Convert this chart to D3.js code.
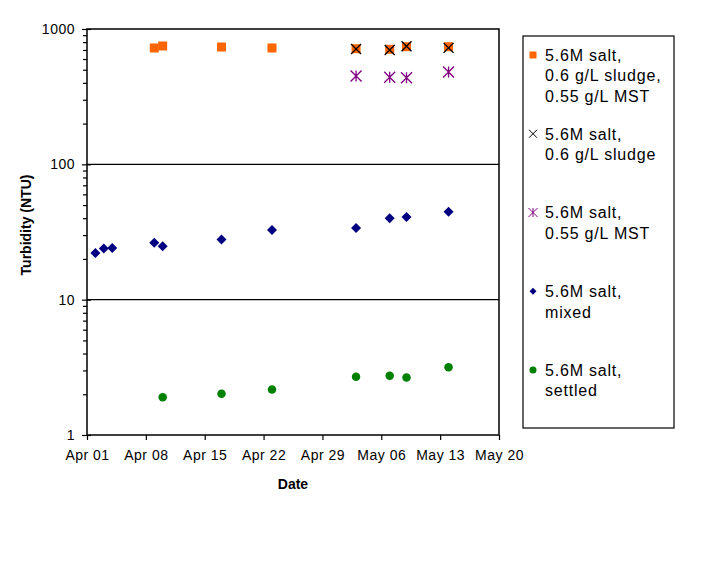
<!DOCTYPE html>
<html>
<head>
<meta charset="utf-8">
<script src="https://cdn.jsdelivr.net/npm/d3@7"></script>
<style>
  body { margin: 0; background: #fff; }
  text { font-family: "Liberation Sans", Arial, sans-serif; }
</style>
</head>
<body>
<svg id="chart" width="712" height="587"></svg>
<script>
// data
var seriesNames = [
  ["5.6M salt,", "0.6 g/L sludge,", "0.55 g/L MST"],
  ["5.6M salt,", "0.6 g/L sludge"],
  ["5.6M salt,", "0.55 g/L MST"],
  ["5.6M salt,", "mixed"],
  ["5.6M salt,", "settled"]
];
var bothDates = ["2005-04-09","2005-04-10","2005-04-17","2005-04-23","2005-05-03","2005-05-07","2005-05-09","2005-05-14"];
var bothVals  = [724, 749, 736, 724, 715, 708, 740, 740];
var sludgeDates = ["2005-05-03","2005-05-07","2005-05-09","2005-05-14"];
var sludgeVals  = [712, 700, 745, 725];
var mstDates = ["2005-05-03","2005-05-07","2005-05-09","2005-05-14"];
var mstVals  = [450, 440, 436, 481];
var mixedDates = ["2005-04-02","2005-04-03","2005-04-04","2005-04-09","2005-04-10","2005-04-17","2005-04-23","2005-05-03","2005-05-07","2005-05-09","2005-05-14"];
var mixedVals  = [22.1, 23.9, 24.1, 26.3, 24.8, 27.8, 32.7, 33.9, 39.9, 40.9, 44.7];
var settledDates = ["2005-04-10","2005-04-17","2005-04-23","2005-05-03","2005-05-07","2005-05-09","2005-05-14"];
var settledVals  = [1.9, 2.02, 2.17, 2.69, 2.74, 2.66, 3.17];
var yTicks = [1, 10, 100, 1000];
var xStart = "2005-04-01", xEnd = "2005-05-20";

var parse = d3.utcParse("%Y-%m-%d");
var pLeft = 87, pRight = 499, pTop = 29, pBottom = 435;

var svg = d3.select("#chart");
var x = d3.scaleUtc().domain([parse(xStart), parse(xEnd)]).range([pLeft, pRight]);
var y = d3.scaleLog().domain([1, 1000]).range([pBottom, pTop]);

// marker paths
function square(s){ var h=s/2; return "M"+(-h)+","+(-h)+"h"+s+"v"+s+"h"+(-s)+"Z"; }
function diamond(s){ var h=s/2; return "M0,"+(-h)+"L"+h+",0L0,"+h+"L"+(-h)+",0Z"; }
function cross(s){ var h=s/2; return "M"+(-h)+","+(-h)+"L"+h+","+h+"M"+h+","+(-h)+"L"+(-h)+","+h; }
function star(s){ var h=s/2; return cross(s)+"M0,"+(-h)+"V"+h; }
function circle(s){ var r=s/2; return "M"+r+",0A"+r+","+r+" 0 1,1 "+(-r)+",0A"+r+","+r+" 0 1,1 "+r+",0Z"; }

var series = [
  {dates: bothDates, vals: bothVals, path: square, size: 9, legSize: 7, fill: "#FF6600", stroke: "none"},
  {dates: sludgeDates, vals: sludgeVals, path: cross, size: 10, legSize: 8, fill: "none", stroke: "#000"},
  {dates: mstDates, vals: mstVals, path: star, size: 11, legSize: 9, fill: "none", stroke: "#800080"},
  {dates: mixedDates, vals: mixedVals, path: diamond, size: 10, legSize: 7, fill: "#000080", stroke: "none"},
  {dates: settledDates, vals: settledVals, path: circle, size: 8.5, legSize: 7, fill: "#008000", stroke: "none"}
];

// frame and gridlines
svg.append("rect").attr("x", pLeft).attr("y", pTop).attr("width", pRight-pLeft).attr("height", pBottom-pTop)
  .attr("fill", "none").attr("stroke", "#000").attr("stroke-width", 1.5);
svg.append("g").selectAll("line").data([10, 100]).join("line")
  .attr("x1", pLeft).attr("x2", pRight).attr("y1", d => y(d)).attr("y2", d => y(d))
  .attr("stroke", "#000").attr("stroke-width", 1.2);

// y axis
var minor = [];
for (var d = 1; d < 1000; d *= 10) for (var k = 2; k < 10; k++) minor.push(d*k);
svg.append("g").attr("transform", "translate(" + pLeft + ",0)")
  .call(d3.axisLeft(y).tickValues(yTicks).tickFormat(d3.format("d")).tickSize(5).tickPadding(7));
svg.append("g").attr("transform", "translate(" + pLeft + ",0)")
  .call(d3.axisLeft(y).tickValues(minor).tickFormat("").tickSize(4));
svg.append("g").attr("transform", "translate(" + pLeft + ",0)")
  .call(d3.axisRight(y).tickValues(yTicks).tickFormat("").tickSize(4));

// x axis, weekly ticks
var xTicks = d3.range(0, 8).map(i => d3.utcDay.offset(parse(xStart), i*7));
svg.append("g").attr("transform", "translate(0," + pBottom + ")")
  .call(d3.axisBottom(x).tickValues(xTicks).tickFormat(d3.utcFormat("%b %d")).tickSize(5).tickPadding(10));

svg.selectAll(".domain").remove();
svg.selectAll(".tick line").attr("stroke", "#000").attr("stroke-width", 1.2);
svg.selectAll(".tick text").attr("font-size", 14).attr("fill", "#000")
  .style("font-family", "'Liberation Sans', Arial, sans-serif").style("letter-spacing", "0.5px");

// axis titles
svg.append("text").attr("x", 293).attr("y", 489).attr("text-anchor", "middle")
  .attr("font-size", 14).attr("font-weight", "bold").text("Date");
svg.append("text").attr("transform", "translate(31,225) rotate(-90)").attr("text-anchor", "middle")
  .attr("font-size", 14).attr("font-weight", "bold").text("Turbidity (NTU)");

// points
series.forEach(function(s){
  svg.append("g").selectAll("path").data(s.vals).join("path")
    .attr("transform", (v, i) => "translate(" + x(parse(s.dates[i])) + "," + y(v) + ")")
    .attr("d", s.path(s.size))
    .attr("fill", s.fill).attr("stroke", s.stroke).attr("stroke-width", 1.3);
});

// legend
var leg = svg.append("g");
leg.append("rect").attr("x", 523).attr("y", 36).attr("width", 151).attr("height", 392)
  .attr("fill", "#fff").attr("stroke", "#000").attr("stroke-width", 1.2);
series.forEach(function(s, i){
  var cy = 55 + i * 78.75;
  leg.append("path").attr("transform", "translate(533," + cy + ")")
    .attr("d", s.path(s.legSize)).attr("fill", s.fill).attr("stroke", s.stroke).attr("stroke-width", 1);
  leg.append("text").attr("x", 545).attr("y", cy).attr("font-size", 16).style("letter-spacing", "0.8px")
    .selectAll("tspan").data(seriesNames[i]).join("tspan")
    .attr("x", 545).attr("dy", (t, j) => j === 0 ? "0.36em" : "20.5px").text(t => t);
});
</script>
</body>
</html>
